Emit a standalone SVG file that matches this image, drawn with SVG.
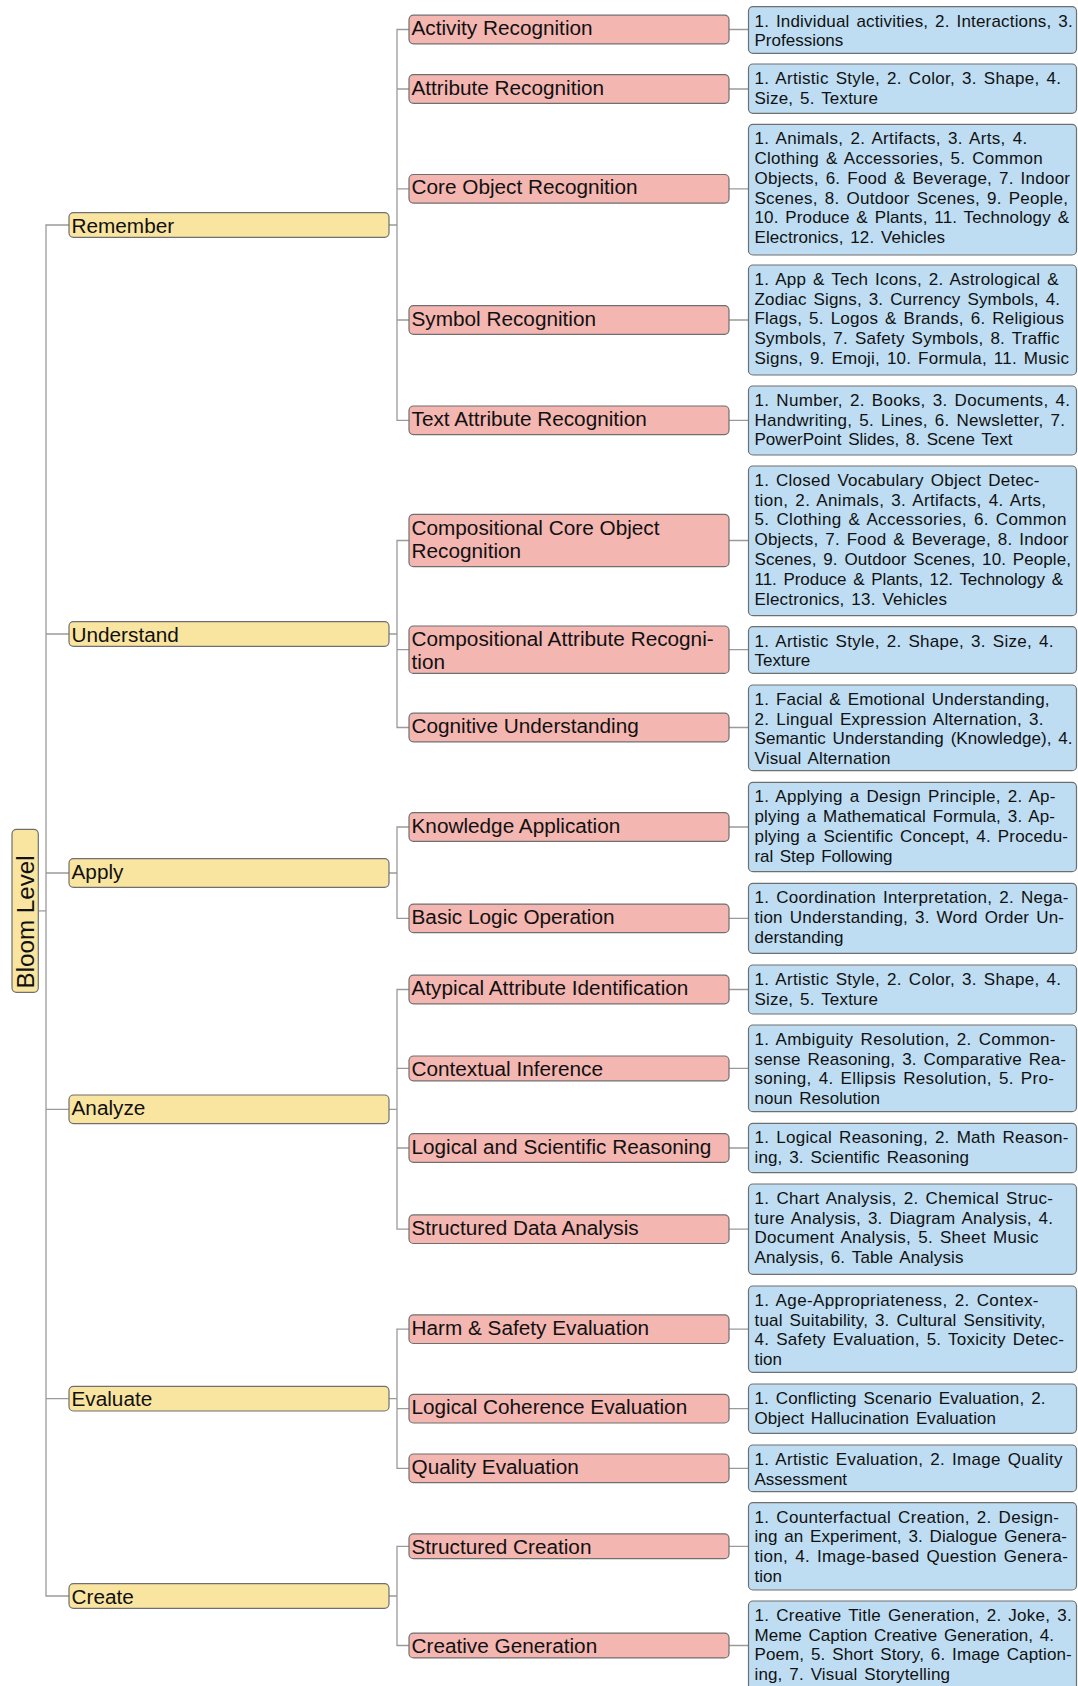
<svg xmlns="http://www.w3.org/2000/svg" width="1078" height="1686" viewBox="0 0 1078 1686">
<style>
rect{stroke:#6f6f6f;stroke-width:1.2}
.y{fill:#F9E5A0}
.p{fill:#F4B6B1}
.b{fill:#BEDDF2}
.c{fill:none;stroke:#9a9a9a;stroke-width:1.3}
text{font-family:"Liberation Sans",Arial,Helvetica,sans-serif;fill:#111}
.L{font-size:20.75px}
.S{font-size:17px;word-spacing:2px}
.R{font-size:24.2px}
</style>
<rect width="1078" height="1686" fill="#fff" style="stroke:none"/>
<g id="connectors">
<path class="c" d="M38.3,910.8H46V225H69M46,910.8V634H69M46,910.8V873H69M46,910.8V1109.3H69M46,910.8V1398.7H69M46,910.8V1596H69"/>
<path class="c" d="M389,225H397V29.5H409M397,225V89H409M397,225V188.8H409M397,225V320H409M397,225V420.3H409"/>
<path class="c" d="M389,634H397V540.5H409M397,634V649.7H409M397,634V727.5H409"/>
<path class="c" d="M389,873H397V827H409M397,873V918.4H409"/>
<path class="c" d="M389,1109.3H397V989.5H409M397,1109.3V1068.4H409M397,1109.3V1148H409M397,1109.3V1229.2H409"/>
<path class="c" d="M389,1398.7H397V1329.2H409M397,1398.7V1408.7H409M397,1398.7V1468.3H409"/>
<path class="c" d="M389,1596H397V1546.3H409M397,1596V1645.5H409"/>
<path class="c" d="M729,29.5H748.5M729,89H748.5M729,188.8H748.5M729,320H748.5M729,420.3H748.5M729,540.5H748.5M729,649.7H748.5M729,727.5H748.5M729,827H748.5M729,918.4H748.5M729,989.5H748.5M729,1068.4H748.5M729,1148H748.5M729,1229.2H748.5M729,1329.2H748.5M729,1408.7H748.5M729,1468.3H748.5M729,1546.3H748.5M729,1645.5H748.5"/>
</g>
<g id="root"><rect class="y" x="12" y="829.3" width="26.3" height="163" rx="4.5"/><text class="R" transform="translate(34,988.5) rotate(-90)">Bloom Level</text></g>
<g id="remember"><rect class="y" x="69" y="212.7" width="320" height="24.6" rx="4.5"/><text class="L" x="71.5" y="232.5">Remember</text></g>
<g id="understand"><rect class="y" x="69" y="621.7" width="320" height="24.6" rx="4.5"/><text class="L" x="71.5" y="641.5">Understand</text></g>
<g id="apply"><rect class="y" x="69" y="858.7" width="320" height="28.6" rx="4.5"/><text class="L" x="71.5" y="878.5">Apply</text></g>
<g id="analyze"><rect class="y" x="69" y="1095" width="320" height="28.6" rx="4.5"/><text class="L" x="71.5" y="1114.8">Analyze</text></g>
<g id="evaluate"><rect class="y" x="69" y="1386.4" width="320" height="24.6" rx="4.5"/><text class="L" x="71.5" y="1406.2">Evaluate</text></g>
<g id="create"><rect class="y" x="69" y="1583.7" width="320" height="24.6" rx="4.5"/><text class="L" x="71.5" y="1603.5">Create</text></g>

<g id="p1"><rect class="p" x="409" y="15.2" width="320" height="28.6" rx="4.5"/><text class="L" x="411.5" y="35">Activity Recognition</text></g>
<g id="p2"><rect class="p" x="409" y="74.7" width="320" height="28.6" rx="4.5"/><text class="L" x="411.5" y="94.5">Attribute Recognition</text></g>
<g id="p3"><rect class="p" x="409" y="174.5" width="320" height="28.6" rx="4.5"/><text class="L" x="411.5" y="194.3">Core Object Recognition</text></g>
<g id="p4"><rect class="p" x="409" y="305.7" width="320" height="28.6" rx="4.5"/><text class="L" x="411.5" y="325.5">Symbol Recognition</text></g>
<g id="p5"><rect class="p" x="409" y="406" width="320" height="28.6" rx="4.5"/><text class="L" x="411.5" y="425.8">Text Attribute Recognition</text></g>
<g id="p6"><rect class="p" x="409" y="514.3" width="320" height="52.4" rx="4.5"/><text class="L" x="411.5" y="534.5">Compositional Core Object</text><text class="L" x="411.5" y="557.5">Recognition</text></g>
<g id="p7"><rect class="p" x="409" y="626" width="320" height="47.4" rx="4.5"/><text class="L" x="411.5" y="645.8">Compositional Attribute Recogni-</text><text class="L" x="411.5" y="668.6">tion</text></g>
<g id="p8"><rect class="p" x="409" y="713.2" width="320" height="28.6" rx="4.5"/><text class="L" x="411.5" y="733">Cognitive Understanding</text></g>
<g id="p9"><rect class="p" x="409" y="812.7" width="320" height="28.6" rx="4.5"/><text class="L" x="411.5" y="832.5">Knowledge Application</text></g>
<g id="p10"><rect class="p" x="409" y="904.1" width="320" height="28.6" rx="4.5"/><text class="L" x="411.5" y="923.9">Basic Logic Operation</text></g>
<g id="p11"><rect class="p" x="409" y="975.2" width="320" height="28.6" rx="4.5"/><text class="L" x="411.5" y="995">Atypical Attribute Identification</text></g>
<g id="p12"><rect class="p" x="409" y="1056" width="320" height="24.8" rx="4.5"/><text class="L" x="411.5" y="1075.8">Contextual Inference</text></g>
<g id="p13"><rect class="p" x="409" y="1133.7" width="320" height="28.6" rx="4.5"/><text class="L" x="411.5" y="1153.5">Logical and Scientific Reasoning</text></g>
<g id="p14"><rect class="p" x="409" y="1214.9" width="320" height="28.6" rx="4.5"/><text class="L" x="411.5" y="1234.7">Structured Data Analysis</text></g>
<g id="p15"><rect class="p" x="409" y="1314.9" width="320" height="28.6" rx="4.5"/><text class="L" x="411.5" y="1334.7">Harm &amp; Safety Evaluation</text></g>
<g id="p16"><rect class="p" x="409" y="1394.4" width="320" height="28.6" rx="4.5"/><text class="L" x="411.5" y="1414.2">Logical Coherence Evaluation</text></g>
<g id="p17"><rect class="p" x="409" y="1454" width="320" height="28.6" rx="4.5"/><text class="L" x="411.5" y="1473.8">Quality Evaluation</text></g>
<g id="p18"><rect class="p" x="409" y="1533.9" width="320" height="24.8" rx="4.5"/><text class="L" x="411.5" y="1553.7">Structured Creation</text></g>
<g id="p19"><rect class="p" x="409" y="1633.1" width="320" height="24.8" rx="4.5"/><text class="L" x="411.5" y="1652.9">Creative Generation</text></g>

<g id="b1"><rect class="b" x="748.5" y="6.7" width="328" height="46.6" rx="4.5"/>
<text class="S" x="754.5" y="26.5" textLength="318.2" lengthAdjust="spacing">1. Individual activities, 2. Interactions, 3.</text>
<text class="S" x="754.5" y="46.3">Professions</text></g>
<g id="b2"><rect class="b" x="748.5" y="64" width="328" height="49.3" rx="4.5"/>
<text class="S" x="754.5" y="83.8" textLength="306.5" lengthAdjust="spacing">1. Artistic Style, 2. Color, 3. Shape, 4.</text>
<text class="S" x="754.5" y="103.6" textLength="123.5" lengthAdjust="spacing">Size, 5. Texture</text></g>
<g id="b3"><rect class="b" x="748.5" y="124.3" width="328" height="130.7" rx="4.5"/>
<text class="S" x="754.5" y="144.1" textLength="272.7" lengthAdjust="spacing">1. Animals, 2. Artifacts, 3. Arts, 4.</text>
<text class="S" x="754.5" y="163.9" textLength="288.1" lengthAdjust="spacing">Clothing &amp; Accessories, 5. Common</text>
<text class="S" x="754.5" y="183.7" textLength="315.5" lengthAdjust="spacing">Objects, 6. Food &amp; Beverage, 7. Indoor</text>
<text class="S" x="754.5" y="203.5" textLength="313.5" lengthAdjust="spacing">Scenes, 8. Outdoor Scenes, 9. People,</text>
<text class="S" x="754.5" y="223.3" textLength="314.5" lengthAdjust="spacing">10. Produce &amp; Plants, 11. Technology &amp;</text>
<text class="S" x="754.5" y="243.1" textLength="190.5" lengthAdjust="spacing">Electronics, 12. Vehicles</text></g>
<g id="b4"><rect class="b" x="748.5" y="265" width="328" height="110" rx="4.5"/>
<text class="S" x="754.5" y="284.8" textLength="304" lengthAdjust="spacing">1. App &amp; Tech Icons, 2. Astrological &amp;</text>
<text class="S" x="754.5" y="304.6" textLength="305.5" lengthAdjust="spacing">Zodiac Signs, 3. Currency Symbols, 4.</text>
<text class="S" x="754.5" y="324.4" textLength="309.5" lengthAdjust="spacing">Flags, 5. Logos &amp; Brands, 6. Religious</text>
<text class="S" x="754.5" y="344.2" textLength="305" lengthAdjust="spacing">Symbols, 7. Safety Symbols, 8. Traffic</text>
<text class="S" x="754.5" y="364" textLength="314.5" lengthAdjust="spacing">Signs, 9. Emoji, 10. Formula, 11. Music</text></g>
<g id="b5"><rect class="b" x="748.5" y="386" width="328" height="69" rx="4.5"/>
<text class="S" x="754.5" y="405.8" textLength="315.5" lengthAdjust="spacing">1. Number, 2. Books, 3. Documents, 4.</text>
<text class="S" x="754.5" y="425.6" textLength="310.5" lengthAdjust="spacing">Handwriting, 5. Lines, 6. Newsletter, 7.</text>
<text class="S" x="754.5" y="445.4" textLength="258" lengthAdjust="spacing">PowerPoint Slides, 8. Scene Text</text></g>
<g id="b6"><rect class="b" x="748.5" y="466" width="328" height="149.7" rx="4.5"/>
<text class="S" x="754.5" y="485.8" textLength="285" lengthAdjust="spacing">1. Closed Vocabulary Object Detec-</text>
<text class="S" x="754.5" y="505.6" textLength="291.5" lengthAdjust="spacing">tion, 2. Animals, 3. Artifacts, 4. Arts,</text>
<text class="S" x="754.5" y="525.4" textLength="312" lengthAdjust="spacing">5. Clothing &amp; Accessories, 6. Common</text>
<text class="S" x="754.5" y="545.2" textLength="314" lengthAdjust="spacing">Objects, 7. Food &amp; Beverage, 8. Indoor</text>
<text class="S" x="754.5" y="565" textLength="316.5" lengthAdjust="spacing">Scenes, 9. Outdoor Scenes, 10. People,</text>
<text class="S" x="754.5" y="584.8" textLength="308.5" lengthAdjust="spacing">11. Produce &amp; Plants, 12. Technology &amp;</text>
<text class="S" x="754.5" y="604.6" textLength="192.5" lengthAdjust="spacing">Electronics, 13. Vehicles</text></g>
<g id="b7"><rect class="b" x="748.5" y="626.7" width="328" height="46.6" rx="4.5"/>
<text class="S" x="754.5" y="646.5" textLength="299" lengthAdjust="spacing">1. Artistic Style, 2. Shape, 3. Size, 4.</text>
<text class="S" x="754.5" y="666.3">Texture</text></g>
<g id="b8"><rect class="b" x="748.5" y="685" width="328" height="85.7" rx="4.5"/>
<text class="S" x="754.5" y="704.8" textLength="295" lengthAdjust="spacing">1. Facial &amp; Emotional Understanding,</text>
<text class="S" x="754.5" y="724.6" textLength="289" lengthAdjust="spacing">2. Lingual Expression Alternation, 3.</text>
<text class="S" x="754.5" y="744.4" textLength="318" lengthAdjust="spacing">Semantic Understanding (Knowledge), 4.</text>
<text class="S" x="754.5" y="764.2" textLength="136" lengthAdjust="spacing">Visual Alternation</text></g>
<g id="b9"><rect class="b" x="748.5" y="782.3" width="328" height="89.4" rx="4.5"/>
<text class="S" x="754.5" y="802.1" textLength="301" lengthAdjust="spacing">1. Applying a Design Principle, 2. Ap-</text>
<text class="S" x="754.5" y="821.9" textLength="300.5" lengthAdjust="spacing">plying a Mathematical Formula, 3. Ap-</text>
<text class="S" x="754.5" y="841.7" textLength="313.5" lengthAdjust="spacing">plying a Scientific Concept, 4. Procedu-</text>
<text class="S" x="754.5" y="861.5" textLength="138" lengthAdjust="spacing">ral Step Following</text></g>
<g id="b10"><rect class="b" x="748.5" y="883.3" width="328" height="70" rx="4.5"/>
<text class="S" x="754.5" y="903.1" textLength="314" lengthAdjust="spacing">1. Coordination Interpretation, 2. Nega-</text>
<text class="S" x="754.5" y="922.9" textLength="309.5" lengthAdjust="spacing">tion Understanding, 3. Word Order Un-</text>
<text class="S" x="754.5" y="942.7">derstanding</text></g>
<g id="b11"><rect class="b" x="748.5" y="965" width="328" height="49" rx="4.5"/>
<text class="S" x="754.5" y="984.8" textLength="306.5" lengthAdjust="spacing">1. Artistic Style, 2. Color, 3. Shape, 4.</text>
<text class="S" x="754.5" y="1004.6" textLength="123.5" lengthAdjust="spacing">Size, 5. Texture</text></g>
<g id="b12"><rect class="b" x="748.5" y="1025" width="328" height="86.7" rx="4.5"/>
<text class="S" x="754.5" y="1044.8" textLength="301" lengthAdjust="spacing">1. Ambiguity Resolution, 2. Common-</text>
<text class="S" x="754.5" y="1064.6" textLength="311.5" lengthAdjust="spacing">sense Reasoning, 3. Comparative Rea-</text>
<text class="S" x="754.5" y="1084.4" textLength="299.5" lengthAdjust="spacing">soning, 4. Ellipsis Resolution, 5. Pro-</text>
<text class="S" x="754.5" y="1104.2" textLength="125.5" lengthAdjust="spacing">noun Resolution</text></g>
<g id="b13"><rect class="b" x="748.5" y="1123.3" width="328" height="49.4" rx="4.5"/>
<text class="S" x="754.5" y="1143.1" textLength="314" lengthAdjust="spacing">1. Logical Reasoning, 2. Math Reason-</text>
<text class="S" x="754.5" y="1162.9" textLength="214.5" lengthAdjust="spacing">ing, 3. Scientific Reasoning</text></g>
<g id="b14"><rect class="b" x="748.5" y="1184" width="328" height="90.3" rx="4.5"/>
<text class="S" x="754.5" y="1203.8" textLength="298.5" lengthAdjust="spacing">1. Chart Analysis, 2. Chemical Struc-</text>
<text class="S" x="754.5" y="1223.6" textLength="298.5" lengthAdjust="spacing">ture Analysis, 3. Diagram Analysis, 4.</text>
<text class="S" x="754.5" y="1243.4" textLength="284" lengthAdjust="spacing">Document Analysis, 5. Sheet Music</text>
<text class="S" x="754.5" y="1263.2" textLength="209" lengthAdjust="spacing">Analysis, 6. Table Analysis</text></g>
<g id="b15"><rect class="b" x="748.5" y="1286" width="328" height="86.3" rx="4.5"/>
<text class="S" x="754.5" y="1305.8" textLength="284" lengthAdjust="spacing">1. Age-Appropriateness, 2. Contex-</text>
<text class="S" x="754.5" y="1325.6" textLength="291" lengthAdjust="spacing">tual Suitability, 3. Cultural Sensitivity,</text>
<text class="S" x="754.5" y="1345.4" textLength="309.5" lengthAdjust="spacing">4. Safety Evaluation, 5. Toxicity Detec-</text>
<text class="S" x="754.5" y="1365.2">tion</text></g>
<g id="b16"><rect class="b" x="748.5" y="1384" width="328" height="49.3" rx="4.5"/>
<text class="S" x="754.5" y="1403.8" textLength="291" lengthAdjust="spacing">1. Conflicting Scenario Evaluation, 2.</text>
<text class="S" x="754.5" y="1423.6" textLength="241.5" lengthAdjust="spacing">Object Hallucination Evaluation</text></g>
<g id="b17"><rect class="b" x="748.5" y="1445" width="328" height="46.7" rx="4.5"/>
<text class="S" x="754.5" y="1464.8" textLength="308" lengthAdjust="spacing">1. Artistic Evaluation, 2. Image Quality</text>
<text class="S" x="754.5" y="1484.6">Assessment</text></g>
<g id="b18"><rect class="b" x="748.5" y="1502.7" width="328" height="87.3" rx="4.5"/>
<text class="S" x="754.5" y="1522.5" textLength="304.5" lengthAdjust="spacing">1. Counterfactual Creation, 2. Design-</text>
<text class="S" x="754.5" y="1542.3" textLength="312.5" lengthAdjust="spacing">ing an Experiment, 3. Dialogue Genera-</text>
<text class="S" x="754.5" y="1562.1" textLength="313.5" lengthAdjust="spacing">tion, 4. Image-based Question Genera-</text>
<text class="S" x="754.5" y="1581.9">tion</text></g>
<g id="b19"><rect class="b" x="748.5" y="1601" width="328" height="89" rx="4.5"/>
<text class="S" x="754.5" y="1620.8" textLength="317.2" lengthAdjust="spacing">1. Creative Title Generation, 2. Joke, 3.</text>
<text class="S" x="754.5" y="1640.6" textLength="299.5" lengthAdjust="spacing">Meme Caption Creative Generation, 4.</text>
<text class="S" x="754.5" y="1660.4" textLength="317.2" lengthAdjust="spacing">Poem, 5. Short Story, 6. Image Caption-</text>
<text class="S" x="754.5" y="1680.2" textLength="195.5" lengthAdjust="spacing">ing, 7. Visual Storytelling</text></g>
</svg>
